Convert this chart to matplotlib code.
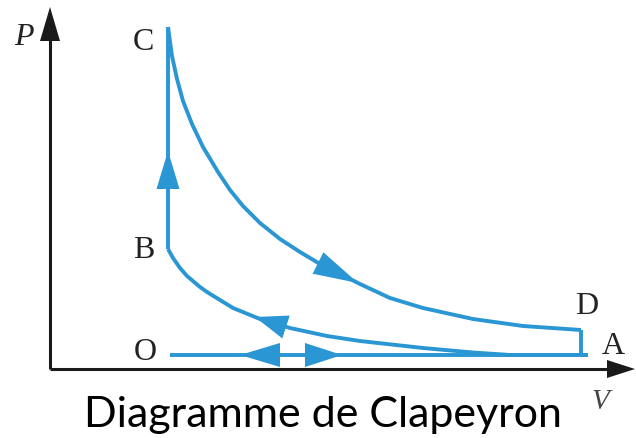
import matplotlib.pyplot as plt

# Clapeyron diagram (P-V), values in arbitrary units
blue = '#2a96d4'

# C -> D (upper curve)
V_CD = [1.18, 1.22, 1.27, 1.33, 1.42, 1.53, 1.68, 1.80, 1.93, 2.10, 2.30,
        2.50, 2.70, 2.90, 3.10, 3.40, 3.73, 4.23, 4.73, 5.31]
P_CD = [3.42, 3.13, 2.90, 2.68, 2.45, 2.22, 1.97, 1.79, 1.63, 1.46, 1.30,
        1.17, 1.05, 0.95, 0.85, 0.71, 0.61, 0.50, 0.43, 0.39]

# B -> A (lower curve)
V_BA = [1.18, 1.23, 1.30, 1.37, 1.50, 1.57, 1.83, 2.10, 2.40, 2.77, 3.10,
        3.73, 4.23, 4.60, 5.38]
P_BA = [1.20, 1.11, 1.01, 0.93, 0.82, 0.77, 0.61, 0.50, 0.41, 0.33, 0.28,
        0.21, 0.165, 0.14, 0.14]

# B -> C (vertical), D -> A (vertical), O - A (horizontal)
V_BC = [1.18, 1.18]
P_BC = [1.20, 3.42]
V_DA = [5.31, 5.31]
P_DA = [0.39, 0.14]
V_OA = [1.20, 5.38]
P_OA = [0.14, 0.14]

# point labels
labels = ['O', 'A', 'B', 'C', 'D']
label_V = [0.95, 5.63, 0.94, 0.93, 5.37]
label_P = [0.18, 0.23, 1.20, 3.28, 0.63]

fig = plt.figure(figsize=(6.36, 4.39), dpi=100)
ax = fig.add_axes([0, 0, 1, 1])
ax.set_xlim(-0.5, 5.86)
ax.set_ylim(-0.69, 3.70)
ax.axis('off')

# axes with arrows
ax.plot([0, 0], [0, 3.35], color='#1a1a1a', lw=2.2, solid_capstyle='butt')
ax.plot([0, 5.6], [0, 0], color='#1a1a1a', lw=2.2, solid_capstyle='butt')
ax.arrow(0, 3.28, 0, 0.34, width=0, head_width=0.20, head_length=0.34,
         length_includes_head=True, color='#1a1a1a', lw=0)
ax.arrow(5.57, 0, 0.28, 0, width=0, head_width=0.18, head_length=0.28,
         length_includes_head=True, color='#1a1a1a', lw=0)

for v, p in [(V_CD, P_CD), (V_BA, P_BA), (V_BC, P_BC), (V_DA, P_DA), (V_OA, P_OA)]:
    ax.plot(v, p, color=blue, lw=2.8, solid_capstyle='butt', solid_joinstyle='round')


def head(base, tip, w=0.24):
    dx, dy = tip[0] - base[0], tip[1] - base[1]
    L = (dx ** 2 + dy ** 2) ** 0.5
    ax.arrow(base[0], base[1], dx, dy, width=0, head_width=w, head_length=L,
             length_includes_head=True, color=blue, lw=0)


head((2.68, 1.06), (3.08, 0.86))
head((2.36, 0.42), (2.05, 0.52))
head((1.18, 1.80), (1.18, 2.18), 0.23)
head((2.30, 0.14), (1.90, 0.14))
head((2.55, 0.14), (2.92, 0.14))

for t, v, p in zip(labels, label_V, label_P):
    ax.text(v, p, t, fontsize=23, family='Liberation Serif', color='#222222',
            ha='center', va='center')

ax.text(-0.26, 3.33, 'P', fontsize=23, family='Liberation Serif', style='italic',
        color='#222222', ha='center', va='center')
ax.text(5.50, -0.32, 'V', fontsize=21, family='Liberation Serif', style='italic',
        color='#444444', ha='center', va='center')

ax.text(2.73, -0.45, 'Diagramme de Clapeyron', fontsize=31, family='Lato',
        color='black', ha='center', va='center')

fig.savefig('out.png', dpi=100)
